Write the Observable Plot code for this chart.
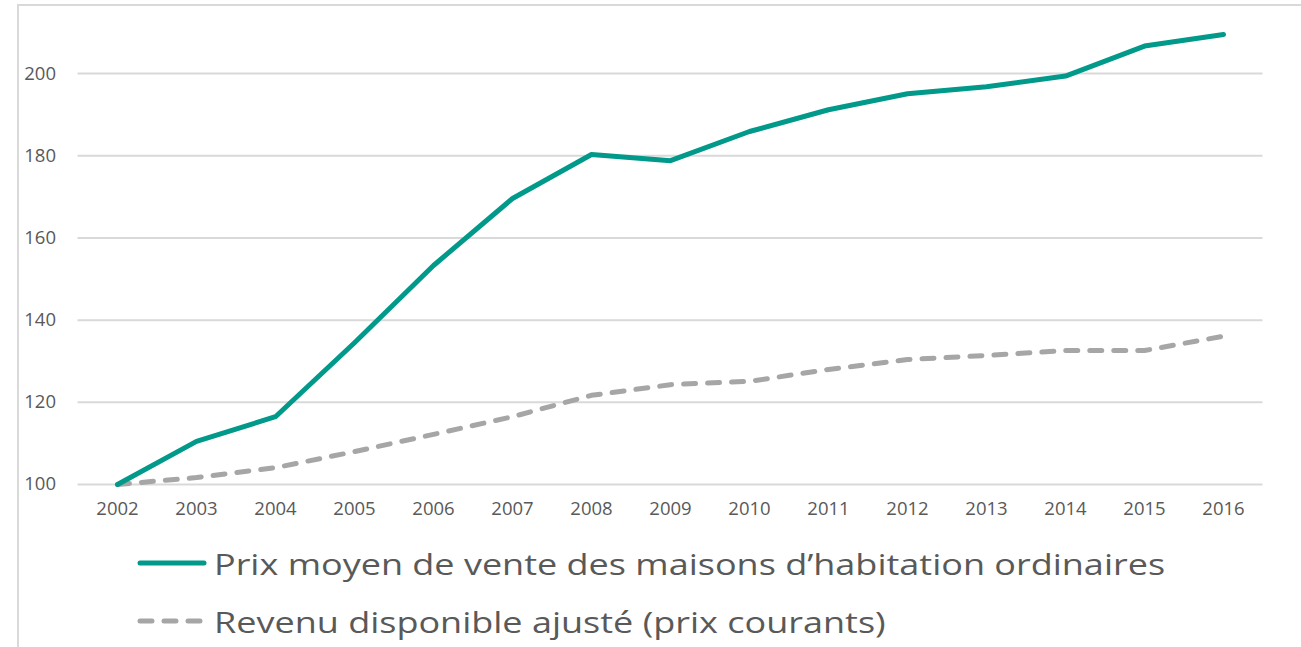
<!DOCTYPE html>
<html>
<head>
<meta charset="utf-8">
<script src="https://cdn.jsdelivr.net/npm/d3@7"></script>
<script src="https://cdn.jsdelivr.net/npm/@observablehq/plot@0.6"></script>
<style>
  html, body { margin: 0; padding: 0; background: #fff; }
  body { width: 1301px; height: 647px; overflow: hidden; position: relative; font-family: "Open Sans", sans-serif; }
  #frame { position: absolute; left: 17px; top: 4px; right: -10px; bottom: -10px; border-top: 2px solid #d9d9d9; border-left: 2px solid #d9d9d9; pointer-events: none; }
  #chart { position: absolute; left: 0; top: 0; }
  #legend { position: absolute; left: 137px; top: 534px; color: #595959; font-size: 30px; }
  .item { display: flex; align-items: center; height: 58px; white-space: nowrap; }
  .item svg { margin-right: 7px; }
  .item span { display: inline-block; transform: scaleX(1.2); transform-origin: left center; }
</style>
</head>
<body>
<div id="chart"></div>
<div id="legend"></div>
<div id="frame"></div>
<script>
const years = ["2002","2003","2004","2005","2006","2007","2008","2009","2010","2011","2012","2013","2014","2015","2016"];
const prixMaisons = [100, 110.5, 116.5, 134.5, 153.3, 169.6, 180.3, 178.8, 185.9, 191.2, 195.1, 196.8, 199.4, 206.7, 209.5];
const revenuDisponible = [100, 101.7, 104.1, 108.0, 112.2, 116.5, 121.7, 124.3, 125.1, 128.0, 130.4, 131.4, 132.6, 132.6, 136.1];
const yTicks = [100, 120, 140, 160, 180, 200];
const seriesNames = ["Prix moyen de vente des maisons d\u2019habitation ordinaires", "Revenu disponible ajust\u00e9 (prix courants)"];

const prixData = years.map((y, i) => ({year: y, value: prixMaisons[i]}));
const revenuData = years.map((y, i) => ({year: y, value: revenuDisponible[i]}));

const teal = "#00998A";
const gray = "#A6A6A6";
const textColor = "#595959";

const chart = Plot.plot({
  width: 1301,
  height: 530,
  marginLeft: 77.5,
  marginRight: 38.5,
  marginTop: 32,
  marginBottom: 46,
  style: {fontFamily: "'Open Sans', sans-serif", color: textColor, background: "transparent"},
  x: {type: "point", domain: years, padding: 0.5},
  y: {domain: [100, 210]},
  marks: [
    Plot.ruleY(yTicks, {stroke: "#d9d9d9", strokeWidth: 2}),
    Plot.axisY(yTicks, {tickSize: 0, tickPadding: 22, fontSize: 18.5, fill: textColor, label: null}),
    Plot.axisX(years, {tickSize: 0, tickPadding: 17, fontSize: 18.5, fill: textColor, label: null}),
    Plot.line(revenuData, {x: "year", y: "value", stroke: gray, strokeWidth: 5, strokeDasharray: "12,12", strokeLinecap: "round", strokeLinejoin: "round"}),
    Plot.line(prixData, {x: "year", y: "value", stroke: teal, strokeWidth: 5, strokeLinecap: "round", strokeLinejoin: "round"})
  ]
});
document.getElementById("chart").appendChild(chart);

const legend = document.getElementById("legend");
const styles = [
  {color: teal, dash: null},
  {color: gray, dash: "12,12"}
];
seriesNames.forEach((name, i) => {
  const item = document.createElement("div");
  item.className = "item";
  const s = styles[i];
  item.innerHTML = `<svg width="70" height="10"><line x1="3" y1="5" x2="67" y2="5" stroke="${s.color}" stroke-width="5" stroke-linecap="round" ${s.dash ? `stroke-dasharray="${s.dash}"` : ""}/></svg><span>${name}</span>`;
  legend.appendChild(item);
});
</script>
</body>
</html>
